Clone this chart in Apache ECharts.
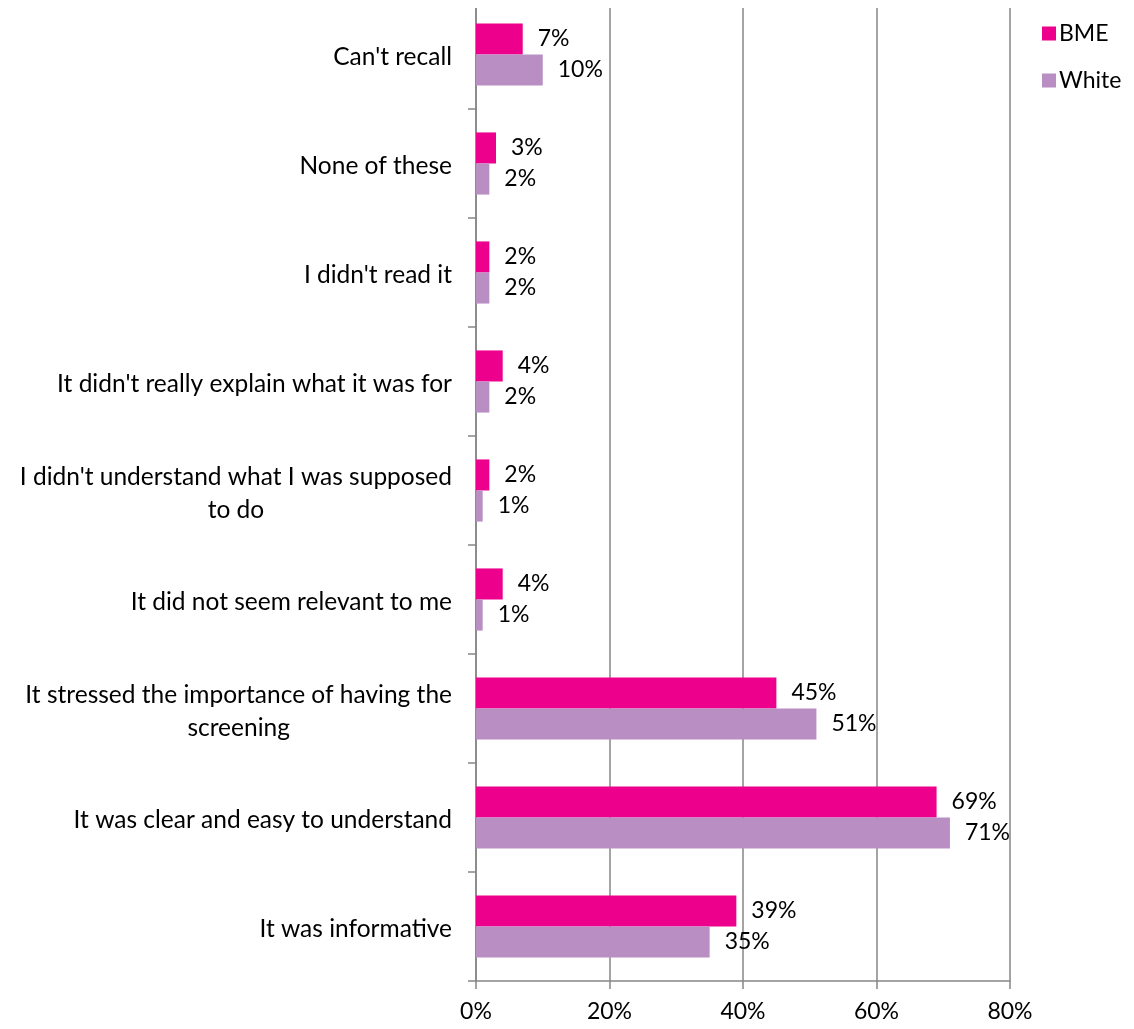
<!DOCTYPE html>
<html><head><meta charset="utf-8">
<script src="https://cdn.jsdelivr.net/npm/echarts@6/dist/echarts.min.js"></script>
<style>html,body{margin:0;padding:0;background:#fff}#c{width:1134px;height:1029px}</style>
</head><body><div id="c"></div>
<script>
// categories top to bottom
const categories = [
  "Can't recall",
  "None of these",
  "I didn't read it",
  "It didn't really explain what it was for",
  "I didn't understand what I was supposed\nto do",
  "It did not seem relevant to me",
  "It stressed the importance of having the\nscreening",
  "It was clear and easy to understand",
  "It was informative"
];
const bme = [7, 3, 2, 4, 2, 4, 45, 69, 39];
const white = [10, 2, 2, 2, 1, 1, 51, 71, 35];
const xTicks = [0, 20, 40, 60, 80];

const FONT = 'Lato';
const FS_CAT = 24.5;
const FS_NUM = 23;
const chart = echarts.init(document.getElementById('c'), null, {renderer: 'canvas'});
const labelCfg = {
  show: true, position: 'right', distance: 15,
  formatter: p => p.value + '%',
  color: '#000', fontFamily: FONT, fontSize: FS_NUM, padding: [3, 0, 0, 0]
};
chart.setOption({
  animation: false,
  backgroundColor: '#fff',
  textStyle: {fontFamily: FONT},
  grid: {left: 476, right: 124, top: 0, bottom: 48, containLabel: false},
  graphic: [{
    type: 'rect', left: 462, top: 0, z: 100,
    shape: {width: 560, height: 8},
    style: {fill: '#fff'}
  }],
  legend: {
    orient: 'vertical', left: 1037, top: 17,
    data: ['BME', 'White'],
    itemWidth: 14, itemHeight: 14, itemGap: 24,
    icon: 'rect',
    textStyle: {fontFamily: FONT, fontSize: FS_NUM, color: '#000', padding: [0, 0, 0, -2]}
  },
  xAxis: {
    type: 'value', min: xTicks[0], max: xTicks[xTicks.length - 1], interval: 20,
    axisLine: {show: true, lineStyle: {color: '#868686', width: 1.5}},
    axisTick: {show: true, length: 8, lineStyle: {color: '#868686', width: 1.5}},
    splitLine: {show: true, lineStyle: {color: '#868686', width: 1.5}},
    axisLabel: {formatter: v => v + '%', color: '#000', fontFamily: FONT, fontSize: FS_NUM, margin: 19}
  },
  yAxis: {
    type: 'category', inverse: true, data: categories,
    axisLine: {show: true, lineStyle: {color: '#868686', width: 1.5}},
    axisTick: {show: true, length: 8, lineStyle: {color: '#868686', width: 1.5}},
    axisLabel: {
      color: '#000', fontFamily: FONT, fontSize: FS_CAT, margin: 24, lineHeight: 33,
      padding: [6, 0, 0, 0],
      formatter: v => v.split('\n').map(s => '{c|' + s + '}').join('\n'),
      rich: {c: {align: 'center', fontFamily: FONT, fontSize: FS_CAT, color: '#000', lineHeight: 33}}
    }
  },
  series: [
    {name: 'BME', type: 'bar', data: bme, barGap: '0%', barCategoryGap: '43%',
     itemStyle: {color: '#EC008C'}, label: labelCfg},
    {name: 'White', type: 'bar', data: white, barGap: '0%', barCategoryGap: '43%',
     itemStyle: {color: '#B98FC3'}, label: labelCfg}
  ]
});
</script></body></html>
